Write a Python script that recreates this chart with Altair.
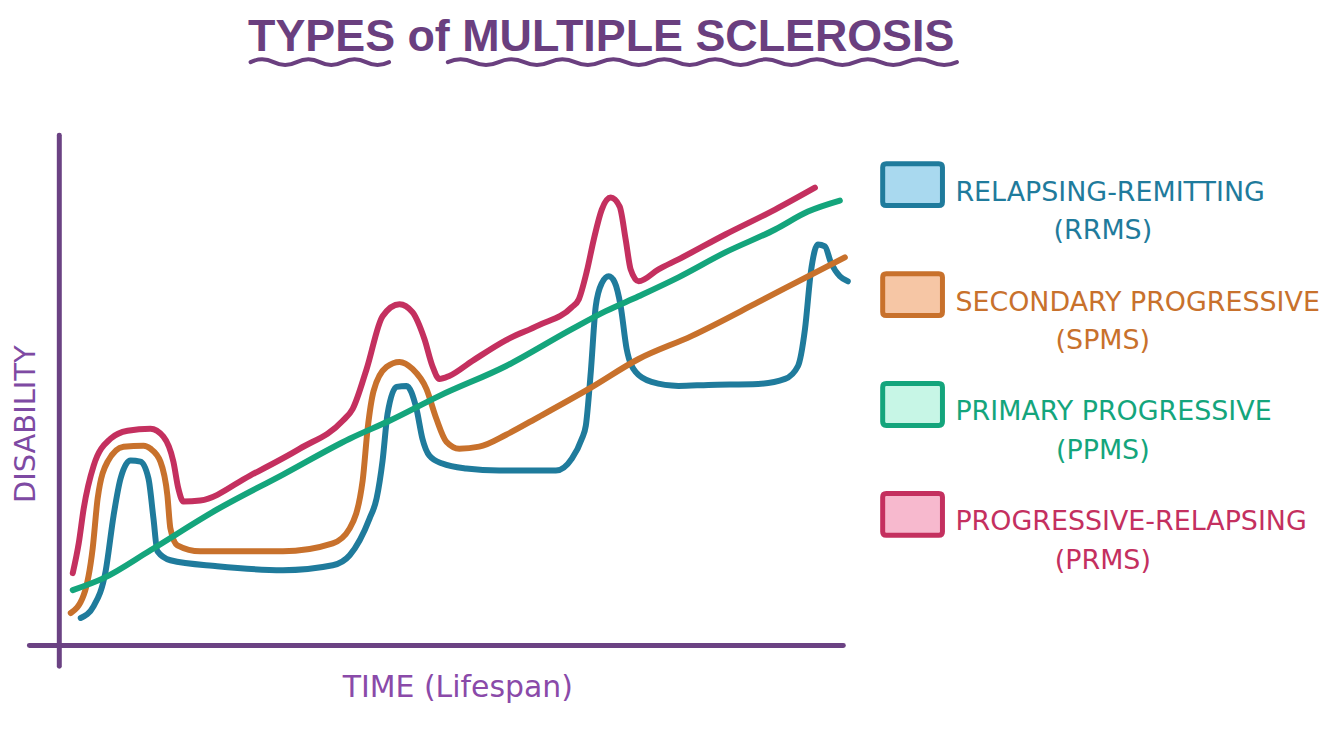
import altair as alt
import pandas as pd

# ---- categories / labels ----
types = ["RRMS", "SPMS", "PPMS", "PRMS"]
names = ["RELAPSING-REMITTING", "SECONDARY PROGRESSIVE", "PRIMARY PROGRESSIVE", "PROGRESSIVE-RELAPSING"]
abbrevs = ["(RRMS)", "(SPMS)", "(PPMS)", "(PRMS)"]
line_colors = ["#1f7b9c", "#c8712c", "#14a57c", "#c4305f"]
box_fills = ["#a9d9ef", "#f6c6a5", "#c7f6e6", "#f7b9ce"]
line_widths = [6, 6, 5, 8]

# ---- series (time, disability) ----
rrms_time = [22, 35, 47, 55, 62, 72, 82, 90, 95, 99, 112, 159, 225, 275, 292, 312, 319, 325, 330, 339,
             349, 359, 365, 372, 385, 409, 442, 475, 499, 515, 525, 529, 534, 539, 545, 552, 558, 564, 570, 579,
             595, 622, 652, 702, 729, 742, 749, 755, 762, 769, 775, 784, 792]
rrms_dis = [27, 39, 74, 130, 167, 185, 184, 167, 127, 94, 85, 79, 75, 80, 90, 127, 147, 185, 232, 259,
            260, 237, 207, 190, 182, 177, 175, 175, 175, 187, 207, 220, 274, 340, 363, 370, 364, 340, 297, 274,
            264, 260, 261, 262, 267, 280, 317, 375, 402, 400, 384, 370, 365]

spms_time = [12, 25, 34, 39, 49, 65, 85, 92, 102, 109, 112, 119, 142, 225, 275, 292, 305, 310, 316, 329,
             342, 355, 369, 379, 389, 402, 422, 449, 482, 532, 582, 635, 702, 752, 789]
spms_dis = [32, 50, 97, 147, 184, 199, 200, 197, 184, 150, 117, 100, 94, 94, 102, 117, 165, 217, 255, 279,
            284, 277, 257, 227, 204, 197, 199, 211, 229, 257, 287, 310, 344, 370, 389]

ppms_time = [14, 45, 92, 159, 225, 292, 332, 382, 449, 515, 549, 582, 622, 669, 719, 752, 784]
ppms_dis = [55, 67, 95, 136, 171, 207, 225, 250, 280, 317, 335, 350, 369, 394, 417, 435, 446]

prms_time = [14, 20, 25, 35, 52, 69, 92, 105, 115, 120, 125, 142, 192, 242, 285, 295, 309, 325, 342, 355,
             367, 375, 382, 392, 415, 449, 482, 515, 522, 530, 537, 545, 554, 563, 569, 574, 582, 602, 622, 669,
             719, 759]
prms_dis = [72, 102, 137, 180, 207, 215, 217, 209, 184, 157, 144, 145, 170, 197, 225, 237, 277, 330, 342, 334,
            307, 280, 267, 270, 285, 306, 321, 339, 347, 375, 407, 437, 449, 440, 407, 377, 365, 377, 387, 412,
            437, 459]

series = {
    "RRMS": (rrms_time, rrms_dis),
    "SPMS": (spms_time, spms_dis),
    "PPMS": (ppms_time, ppms_dis),
    "PRMS": (prms_time, prms_dis),
}
frames = []
for k, (t, d) in series.items():
    frames.append(pd.DataFrame({"type": k, "time": t, "disability": d}))
df_lines = pd.concat(frames, ignore_index=True)

df_leg = pd.DataFrame({"type": types, "name": names, "abbrev": abbrevs})

PURPLE = "#6b4283"
TITLE_PURPLE = "#6a3f7f"

color_scale = alt.Scale(domain=types, range=line_colors)

lines = alt.Chart(df_lines).mark_line(
    interpolate="monotone", strokeCap="round", strokeJoin="round"
).encode(
    x=alt.X("time:Q",
            scale=alt.Scale(domain=[-30, 787], nice=False, zero=False),
            axis=alt.Axis(title="TIME (Lifespan)", labels=False, ticks=False, grid=False,
                          domainColor=PURPLE, domainWidth=5, domainCap="round", offset=-21,
                          titleFont="DejaVu Sans", titleFontSize=30, titleFontWeight="normal",
                          titleColor="#8a4aa9", titleX=430, titleY=43,
                          titleAlign="center", titleBaseline="middle")),
    y=alt.Y("disability:Q",
            scale=alt.Scale(domain=[-21, 512], nice=False, zero=False),
            axis=alt.Axis(title="DISABILITY", labels=False, ticks=False, grid=False,
                          domainColor=PURPLE, domainWidth=5, domainCap="round", offset=-30,
                          titleFont="DejaVu Sans", titleFontSize=29, titleFontWeight="normal",
                          titleColor="#7e4aa3", titleX=-33, titleY=290, titleAngle=270,
                          titleAlign="center", titleBaseline="middle")),
    color=alt.Color("type:N", scale=color_scale, legend=None),
    strokeWidth=alt.StrokeWidth("type:N", scale=alt.Scale(domain=types, range=line_widths), legend=None),
    detail="type:N",
)

legend_y = alt.Scale(type="point", domain=types, range=[50, 381], padding=0)

box_path = ("M-0.88,-0.7L0.88,-0.7Q1,-0.7,1,-0.58L1,0.58Q1,0.7,0.88,0.7"
            "L-0.88,0.7Q-1,0.7,-1,0.58L-1,-0.58Q-1,-0.7,-0.88,-0.7Z")

boxes = alt.Chart(df_leg).mark_point(
    shape=box_path, size=3600, filled=True, strokeWidth=5, opacity=1
).encode(
    x=alt.value(887),
    y=alt.Y("type:N", scale=legend_y, axis=None),
    fill=alt.Fill("type:N", scale=alt.Scale(domain=types, range=box_fills), legend=None),
    stroke=alt.Stroke("type:N", scale=alt.Scale(domain=types, range=line_colors), legend=None),
)

name_text = alt.Chart(df_leg).mark_text(
    align="left", baseline="middle", dy=8, font="DejaVu Sans", fontSize=27
).encode(
    x=alt.value(930),
    y=alt.Y("type:N", scale=legend_y, axis=None),
    text="name:N",
    color=alt.Color("type:N", scale=color_scale, legend=None),
)

abbr_text = alt.Chart(df_leg).mark_text(
    align="center", baseline="middle", dy=47, font="DejaVu Sans", fontSize=27
).encode(
    x=alt.value(1078),
    y=alt.Y("type:N", scale=legend_y, axis=None),
    text="abbrev:N",
    color=alt.Color("type:N", scale=color_scale, legend=None),
)

# hand-drawn wavy underlines under the title (decorative symbols)
short_wave = "M-1,0 Q-0.833,-0.08 -0.667,0 T-0.333,0 T0,0 T0.333,0 T0.667,0 T1,0"
long_wave = ("M-1,0 Q-0.95,-0.022 -0.9,0 T-0.8,0 T-0.7,0 T-0.6,0 T-0.5,0 T-0.4,0 T-0.3,0 T-0.2,0 "
             "T-0.1,0 T0,0 T0.1,0 T0.2,0 T0.3,0 T0.4,0 T0.5,0 T0.6,0 T0.7,0 T0.8,0 T0.9,0 T1,0")
one = pd.DataFrame({"k": [0]})
wave1 = alt.Chart(one).mark_point(
    shape=short_wave, size=19321, filled=False, strokeWidth=4, color=TITLE_PURPLE, opacity=1,
    strokeCap="round"
).encode(x=alt.value(292), y=alt.value(-73))
wave2 = alt.Chart(one).mark_point(
    shape=long_wave, size=261121, filled=False, strokeWidth=4, color=TITLE_PURPLE, opacity=1,
    strokeCap="round"
).encode(x=alt.value(676), y=alt.value(-73))

chart = alt.layer(lines, boxes, name_text, abbr_text, wave1, wave2).resolve_scale(
    y="independent"
).properties(
    width=817, height=533,
    padding={"left": 4, "top": 6, "right": 5, "bottom": 5},
    title=alt.TitleParams(
        text="TYPES of MULTIPLE SCLEROSIS",
        anchor="start", frame="group", dx=220,
        font="Liberation Sans", fontSize=45, fontWeight="bold", color=TITLE_PURPLE,
        offset=-9,
    ),
).configure_view(strokeWidth=0)

chart.save("out.html", embed_options={"renderer": "svg", "actions": False})
